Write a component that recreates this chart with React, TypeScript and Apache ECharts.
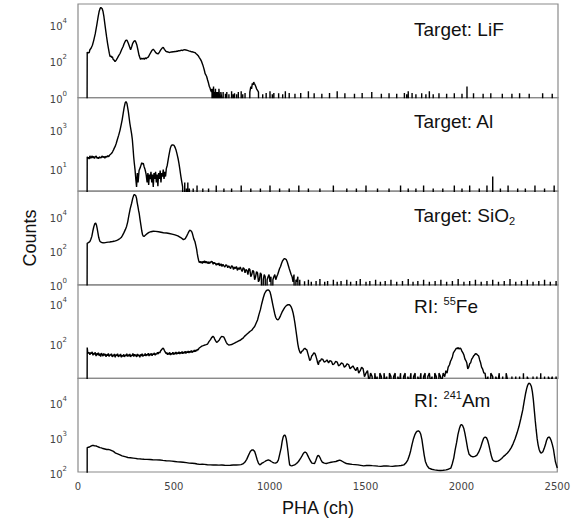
import React, { useEffect, useRef } from "react";
import * as echarts from "echarts";

// ---------- data (channel, counts) ----------
const xTicks = [0, 500, 1000, 1500, 2000, 2500];

const lifMain: number[][] = [
  [46, 0], [48, 300], [52, 260], [55, 290], [58, 270], [62, 400], [68, 480], [75, 700], [82, 1300], [90, 3000], [98, 9000],
  [105, 25000], [110, 48000], [115, 70000], [119, 80000], [122, 80000], [126, 68000],
  [130, 50000], [135, 25000], [140, 10000], [145, 4000], [149, 2000], [154, 900], [158, 500], [163, 260], [167, 170], [171, 190], [175, 150], [179, 170], [183, 120], [188, 110], [193, 90],
  [199, 110], [205, 140], [212, 190], [219, 250], [227, 400], [235, 600], [240, 850], [245, 1100], [249, 1300], [253, 1350], [257, 1200], [262, 900], [268, 600], [274, 400], [280, 600], [285, 900],
  [291, 1150], [297, 1250], [302, 1000], [307, 700], [312, 400], [318, 200], [322, 150], [326, 120], [330, 140], [335, 125], [340, 140], [345, 120], [350, 145], [355, 130], [360, 150], [366, 160], [373, 220], [380, 300],
  [386, 380], [392, 430], [398, 360], [405, 280], [411, 250], [418, 240], [424, 300], [430, 380], [437, 480], [444, 550], [450, 420], [458, 330], [464, 310], [470, 300], [475, 285], [479, 290],
  [486, 310], [490, 295], [495, 320], [500, 305], [505, 330], [510, 315], [515, 340], [520, 330], [525, 360], [530, 345], [535, 370], [540, 380], [545, 365], [550, 395], [557, 400], [563, 385], [570, 370], [577, 350], [585, 330], [592, 310], [600, 300],
  [609, 280], [614, 250], [620, 220], [626, 190], [632, 150], [638, 120], [644, 90], [650, 60], [655, 40], [659, 28], [662, 20], [666, 17], [670, 14], [675, 9], [680, 6], [684, 4], [687, 3.5],
  [691, 2.5], [695, 2], [698, 3], [700, 0], [702, 3], [704, 1], [706, 4], [708, 0], [711, 2], [714, 1], [716, 3], [719, 0],
  [722, 2], [725, 1], [728, 2], [731, 0], [734, 3], [737, 1], [740, 0], [744, 2], [748, 1], [752, 0],
  [756, 2], [760, 0], [890, 0], [895, 2], [900, 4], [904, 3], [908, 6], [912, 5], [915, 7], [918, 6], [922, 5], [926, 4], [930, 3], [935, 2.5], [940, 2], [945, 0],
];
const lifSpikes: number[][] = [
  [768, 1.6], [775, 2], [786, 1.5], [800, 2.2], [808, 1.5], [815, 1.7], [826, 1.5], [835, 2], [850, 2.2], [858, 1.5], [870, 1.8], [962, 1.5], [980, 1.8], [1000, 2.2], [1012, 1.5], [1020, 1.8], [1045, 1.7],
  [1066, 1.5], [1080, 2.2], [1100, 1.8], [1130, 1.6], [1160, 1.8], [1200, 2.2], [1230, 1.7], [1270, 1.6], [1310, 1.8], [1350, 2.2],
  [1390, 1.7], [1440, 1.6], [1480, 1.8], [1530, 2], [1580, 1.6], [1620, 1.7], [1660, 1.6], [1700, 1.8], [1712, 1.5], [1720, 2.2],
  [1740, 1.8], [1760, 1.5], [1790, 1.7], [1812, 1.5], [1830, 2.2], [1850, 1.5], [1880, 1.7], [1920, 1.6], [1960, 1.7], [2000, 1.6], [2026, 4], [2060, 1.7],
  [2110, 1.6], [2150, 1.7], [2210, 1.6], [2260, 1.6], [2300, 1.7], [2350, 1.6], [2420, 1.7], [2470, 1.6],
];

const alMain: number[][] = [
  [46, 0], [48, 40], [52, 33], [55, 38], [58, 31], [62, 45], [66, 34], [70, 38], [74, 44], [78, 35], [82, 42], [86, 33], [90, 40], [95, 44], [99, 34], [103, 38], [107, 32], [112, 40],
  [116, 36], [120, 35], [125, 44], [130, 37], [135, 42], [140, 34], [145, 43], [150, 38], [155, 46], [160, 40], [164, 48], [167, 50], [171, 55], [175, 60], [180, 72], [185, 90], [189, 110], [193, 130],
  [199, 190], [205, 300], [212, 500], [219, 900], [225, 1700], [230, 3000], [235, 6000], [240, 12000], [246, 22000], [250, 25000], [255, 20000],
  [262, 8000], [270, 2000], [279, 600], [283, 300], [287, 100], [290, 40], [293, 20], [297, 9], [301, 3], [305, 1.2], [309, 6],
  [313, 2], [318, 8], [325, 12], [332, 20], [336, 17], [340, 19], [344, 13], [348, 10], [352, 7], [355, 5], [360, 2], [364, 6],
  [368, 1.5], [372, 5], [376, 3], [380, 7], [384, 2], [388, 5], [392, 1.2], [396, 6], [400, 3],
  [404, 7], [408, 2], [412, 5], [416, 1.3], [420, 6], [424, 3], [428, 8], [432, 2], [436, 6], [440, 4],
  [444, 9], [448, 3], [452, 7], [456, 4], [460, 10], [465, 15], [470, 30], [474, 50], [478, 80], [481, 110], [485, 140],
  [488, 155], [492, 160], [496, 158], [500, 150], [503, 135], [507, 110], [511, 85], [515, 60], [518, 45], [522, 30], [526, 18], [530, 10], [536, 4], [540, 2.3], [545, 1.2],
  [550, 0], [556, 2], [559, 0], [565, 1], [568, 0], [572, 2], [575, 0], [580, 1], [583, 0],
];
const alSpikes: number[][] = [
  [600, 1], [620, 1.4], [650, 1], [680, 1], [720, 1.4], [760, 1], [800, 1], [850, 1.4], [900, 1], [950, 1],
  [1000, 1.4], [1050, 1], [1100, 1], [1150, 1.4], [1200, 1], [1260, 1], [1330, 1.4], [1400, 1], [1450, 1],
  [1500, 1.4], [1560, 1], [1620, 1], [1680, 1.4], [1720, 1], [1760, 1], [1800, 1.4], [1850, 1], [1900, 1],
  [1960, 1.4], [2000, 1], [2040, 1.4], [2090, 1], [2130, 1.4], [2160, 4], [2200, 1], [2240, 1.4], [2290, 1],
  [2330, 1], [2380, 1.4], [2430, 1], [2480, 1.4],
];

const sioMain: number[][] = [
  [46, 0], [48, 280], [52, 290], [55, 300], [58, 320], [62, 350], [67, 480], [72, 700], [77, 1400], [82, 2500], [87, 3800], [92, 4200], [96, 3300], [100, 2000], [104, 1100], [108, 600],
  [112, 420], [115, 350], [120, 320], [125, 300], [130, 295], [135, 290], [142, 300], [149, 310], [157, 320], [165, 330], [172, 340], [180, 350], [187, 365], [195, 380], [202, 410], [210, 450],
  [217, 510], [225, 600], [232, 800], [240, 1200], [247, 1800], [253, 2700], [259, 5000], [265, 12000], [272, 30000], [279, 60000], [285, 120000], [290, 180000], [294, 200000], [297, 200000],
  [301, 170000], [305, 120000], [308, 70000], [312, 40000], [316, 22000], [319, 15000], [323, 7000], [328, 3000], [332, 1500], [336, 900], [340, 720], [344, 700], [349, 780], [355, 900], [362, 1050],
  [370, 1200], [380, 1320], [392, 1400], [405, 1380], [420, 1300], [432, 1230], [445, 1150], [462, 1100], [475, 1030], [490, 950], [505, 860], [520, 750], [535, 600], [549, 450],
  [555, 480], [560, 550], [566, 720], [572, 1000], [576, 1250], [580, 1500], [584, 1620], [587, 1600], [591, 1400], [595, 1100], [599, 750], [603, 500], [606, 420], [609, 350], [613, 220], [618, 120],
  [621, 70], [625, 40], [628, 28], [632, 20], [636, 24], [640, 19], [644, 23], [648, 18], [652, 24], [655, 20], [659, 26], [663, 19], [667, 24], [670, 25], [674, 18], [678, 23], [682, 17], [685, 22], [690, 19], [694, 24], [700, 22], [704, 16], [708, 21], [711, 18], [715, 19], [720, 14], [724, 18], [730, 15],
  [734, 19], [738, 13], [745, 17], [750, 12], [755, 16], [760, 13], [765, 11], [770, 15], [775, 14], [780, 10], [785, 13], [790, 11], [795, 9], [800, 13], [805, 12], [810, 8], [815, 11], [820, 9], [825, 12], [830, 7], [835, 10], [840, 8], [845, 11], [850, 8], [855, 6], [860, 10], [865, 9],
  [870, 5], [875, 8], [880, 7], [885, 4], [890, 9], [895, 8], [900, 3], [905, 4], [910, 7], [915, 6], [920, 2], [925, 3], [930, 6], [935, 5], [940, 1.5], [945, 2], [950, 5], [955, 4], [960, 0], [965, 2], [970, 4], [975, 3],
  [980, 0], [985, 2], [990, 3], [995, 4], [1000, 1.5], [1005, 3], [1010, 0], [1015, 2], [1020, 3], [1025, 4], [1030, 2], [1035, 3], [1040, 4], [1045, 6], [1050, 9], [1055, 12], [1060, 18], [1065, 25],
  [1070, 30], [1075, 35], [1080, 33], [1085, 30], [1090, 22], [1095, 14], [1100, 9], [1105, 6], [1110, 4], [1115, 3], [1120, 1.5], [1125, 4], [1130, 0], [1135, 2], [1140, 1.5], [1145, 3], [1150, 0], [1155, 2],
  [1160, 0],
];
const sioSpikes: number[][] = [
  [1180, 1.6], [1200, 2], [1215, 1.5], [1240, 1.7], [1260, 2.2], [1285, 1.5], [1300, 1.7], [1330, 2], [1350, 1.5],
  [1370, 1.7], [1400, 2], [1420, 1.5], [1450, 1.7], [1470, 2.2], [1500, 1.5], [1520, 1.7], [1550, 2], [1575, 1.5],
  [1600, 1.7], [1630, 2], [1660, 1.5], [1690, 1.7], [1720, 2.2], [1745, 1.5], [1770, 1.7], [1800, 2], [1830, 1.5],
  [1860, 1.7], [1890, 2], [1920, 1.5], [1950, 1.7], [1980, 2.2], [2010, 1.5], [2040, 1.7], [2070, 2], [2100, 1.5],
  [2130, 1.7], [2160, 2], [2190, 1.5], [2220, 1.7], [2250, 2.2], [2280, 1.5], [2310, 1.7], [2340, 2], [2370, 1.5],
  [2400, 1.7], [2430, 2], [2460, 1.5], [2490, 1.7],
];

const feMain: number[][] = [
  [46, 0], [48, 60], [50, 38], [54, 30], [58, 34], [62, 26], [66, 33], [70, 29], [74, 36], [78, 24], [82, 31], [86, 27], [90, 34], [94, 22], [98, 30], [102, 25], [106, 33], [110, 23],
  [114, 29], [118, 21], [122, 31], [126, 26], [130, 22], [134, 30], [138, 24], [142, 28], [146, 20], [150, 27], [154, 23], [158, 30], [162, 21], [166, 26], [170, 24], [174, 29],
  [178, 20], [182, 25], [186, 22], [190, 28], [194, 19], [198, 26], [202, 23], [206, 29], [210, 20], [214, 25], [218, 22], [222, 28], [226, 19], [230, 24], [234, 21], [238, 27],
  [242, 20], [246, 25], [250, 23], [254, 29], [258, 21], [262, 26], [266, 22], [270, 28], [274, 20], [278, 25], [282, 23], [286, 30], [290, 21], [294, 27], [298, 22], [302, 26],
  [306, 20], [310, 28], [314, 23], [318, 25], [322, 19], [326, 27], [330, 22], [334, 29], [338, 21], [342, 26], [346, 23], [350, 30], [354, 22], [358, 27], [362, 24], [366, 31],
  [370, 22], [374, 28], [378, 25], [382, 30], [386, 23], [390, 29], [394, 26], [398, 32], [402, 24], [406, 30], [410, 27], [414, 34], [418, 28], [422, 36], [426, 32], [430, 40],
  [434, 45], [438, 50], [442, 56], [446, 52], [450, 42], [454, 36], [458, 30], [462, 33], [466, 26], [470, 31], [474, 27], [478, 34], [482, 25], [486, 30], [490, 27], [494, 35],
  [498, 26], [502, 32], [506, 28], [510, 36], [514, 27], [518, 33], [522, 29], [526, 37], [530, 28], [534, 34], [538, 30], [542, 38], [546, 29], [550, 35], [554, 31], [558, 39],
  [562, 30], [566, 37], [570, 33], [574, 40], [578, 32], [582, 38], [586, 34], [590, 42], [594, 33], [598, 40], [602, 36], [606, 44], [610, 37], [614, 45], [618, 40], [622, 48],
  [626, 45], [630, 55], [637, 62], [645, 70], [652, 74], [660, 80], [667, 84], [675, 90], [682, 120], [690, 150], [696, 190], [703, 220], [708, 200], [712, 160], [717, 130], [722, 110], [728, 120], [735, 140],
  [741, 180], [748, 220], [754, 215], [760, 200], [766, 150], [772, 110], [778, 90], [785, 80], [792, 82], [800, 85], [807, 92], [815, 100], [822, 110], [830, 120], [837, 130], [845, 140],
  [852, 160], [860, 180], [867, 220], [875, 260], [882, 300], [890, 350], [897, 400], [905, 450], [912, 560], [920, 700], [927, 1000], [935, 1500], [942, 2700], [950, 5000], [957, 10000], [965, 20000],
  [972, 33000], [980, 45000], [985, 49000], [990, 50000], [995, 47000], [1000, 40000], [1005, 26000], [1010, 15000], [1015, 8500], [1020, 5000], [1025, 3000], [1030, 2000], [1036, 1600], [1042, 1500],
  [1048, 1800], [1055, 2500], [1062, 3600], [1070, 5000], [1077, 6500], [1085, 8000], [1092, 8800], [1100, 9000], [1105, 8300], [1110, 7000], [1115, 5200], [1120, 3500], [1125, 2000], [1130, 1000],
  [1135, 450], [1140, 200], [1145, 90], [1150, 50], [1155, 36], [1160, 30], [1165, 38], [1170, 40], [1176, 50], [1182, 55], [1187, 48], [1192, 45], [1197, 30], [1202, 20], [1207, 13], [1212, 15],
  [1217, 22], [1222, 25], [1228, 32], [1234, 30], [1239, 22], [1244, 15], [1248, 10], [1252, 8], [1257, 13], [1262, 12], [1268, 16], [1275, 15], [1282, 11], [1290, 12], [1297, 14], [1305, 10],
  [1312, 13], [1320, 12], [1327, 8], [1335, 9], [1342, 12], [1350, 11], [1357, 7], [1365, 8], [1372, 10], [1380, 9], [1387, 6], [1395, 7], [1402, 9], [1410, 8], [1417, 5], [1425, 6],
  [1432, 7], [1440, 5], [1447, 4], [1455, 6], [1462, 3], [1470, 4], [1477, 6], [1485, 5], [1492, 2], [1500, 3], [1508, 4], [1516, 1], [1524, 3], [1532, 2], [1540, 0], [1546, 3], [1552, 1], [1558, 2],
  [1564, 0], [1572, 3], [1580, 2], [1586, 0], [1594, 3], [1600, 1], [1608, 2], [1614, 0], [1622, 3], [1630, 2], [1636, 0], [1644, 2], [1652, 3], [1658, 0], [1666, 2], [1674, 1], [1680, 3],
  [1688, 0], [1696, 2], [1704, 3], [1710, 0], [1718, 2], [1726, 1], [1734, 3], [1740, 0], [1748, 2], [1756, 3], [1762, 0], [1770, 2], [1778, 1], [1786, 3], [1792, 0], [1800, 2], [1808, 3],
  [1814, 0], [1822, 2], [1830, 3], [1836, 1], [1844, 2], [1850, 0], [1858, 3], [1866, 2], [1872, 0], [1880, 3], [1888, 2], [1894, 1], [1902, 3], [1910, 2], [1916, 4], [1922, 3], [1928, 6],
  [1935, 8], [1940, 12], [1945, 15], [1950, 20], [1955, 32], [1960, 38], [1965, 45], [1970, 55], [1975, 52], [1980, 60], [1985, 50], [1990, 56], [1995, 50], [2000, 38], [2005, 32], [2010, 25], [2015, 16], [2020, 13],
  [2025, 10], [2030, 5], [2035, 6], [2040, 9], [2045, 10], [2050, 15], [2055, 18], [2060, 22], [2065, 25], [2070, 29], [2076, 28], [2081, 25], [2087, 22], [2092, 14], [2097, 10], [2102, 6], [2107, 5], [2114, 3],
  [2120, 3], [2127, 1], [2135, 2], [2142, 0], [2150, 3], [2160, 2], [2168, 0], [2176, 2], [2186, 1], [2194, 3], [2202, 0], [2212, 2], [2222, 0], [2230, 3], [2240, 1], [2250, 0], [2260, 2],
  [2270, 0], [2280, 2], [2290, 0], [2300, 2], [2310, 0], [2320, 3], [2330, 0], [2340, 2], [2350, 1], [2360, 0], [2370, 2], [2380, 0], [2390, 2], [2400, 0], [2410, 3], [2420, 0], [2430, 2],
  [2440, 0], [2450, 2], [2460, 1], [2470, 2], [2480, 0], [2490, 2], [2500, 0],
];

const amMain: number[][] = [
  [46, 0], [48, 500], [54, 510], [60, 520], [65, 540], [70, 560], [75, 575], [80, 580], [85, 565], [90, 560], [95, 555], [100, 540], [107, 520], [115, 500], [122, 490], [130, 470],
  [140, 455], [150, 440], [158, 445], [167, 430], [176, 410], [185, 390], [192, 360], [200, 340], [210, 325], [219, 310], [230, 290], [240, 280], [250, 270], [260, 260], [274, 255], [288, 250],
  [299, 245], [310, 240], [320, 238], [330, 235], [345, 232], [360, 230], [375, 228], [390, 225], [408, 222], [427, 220], [443, 215], [460, 210], [475, 208], [490, 205], [505, 200], [520, 195],
  [535, 193], [549, 190], [565, 185], [580, 180], [595, 178], [610, 175], [622, 170], [635, 165], [648, 166], [660, 165], [675, 162], [690, 160], [705, 158], [720, 160], [735, 157], [750, 158],
  [765, 156], [780, 155], [795, 156], [810, 158], [825, 158], [840, 160], [850, 163], [860, 170], [870, 190], [880, 230], [888, 290], [895, 350], [900, 395], [905, 420], [909, 428], [913, 430], [917, 412],
  [922, 380], [928, 300], [935, 220], [941, 180], [948, 160], [954, 168], [960, 180], [968, 190], [975, 200], [982, 212], [990, 220], [995, 220], [1000, 215], [1008, 200], [1015, 190], [1022, 182],
  [1030, 180], [1038, 190], [1045, 220], [1052, 320], [1060, 500], [1065, 750], [1070, 1000], [1074, 1100], [1078, 1150], [1082, 1080], [1086, 900], [1090, 650], [1095, 400], [1100, 230],
  [1104, 160], [1110, 152], [1115, 150], [1122, 155], [1130, 160], [1140, 175], [1150, 200], [1160, 240], [1170, 300], [1176, 345], [1182, 370], [1187, 368], [1192, 350], [1198, 300],
  [1205, 250], [1212, 210], [1220, 180], [1227, 176], [1234, 175], [1240, 210], [1245, 250], [1249, 285], [1252, 300], [1257, 290], [1262, 260], [1268, 220], [1275, 190], [1285, 180],
  [1295, 175], [1307, 182], [1320, 190], [1332, 195], [1345, 200], [1355, 210], [1365, 220], [1372, 212], [1380, 200], [1390, 185], [1400, 175], [1415, 170], [1430, 165], [1445, 163],
  [1460, 160], [1475, 155], [1490, 150], [1505, 153], [1520, 155], [1535, 152], [1550, 150], [1565, 147], [1580, 145], [1595, 148], [1610, 150], [1625, 147], [1640, 145], [1655, 148],
  [1670, 150], [1685, 153], [1700, 160], [1710, 180], [1720, 220], [1728, 290], [1735, 400], [1742, 600], [1750, 900], [1758, 1200], [1765, 1400], [1770, 1480], [1776, 1500], [1782, 1420],
  [1788, 1200], [1794, 850], [1800, 500], [1806, 300], [1812, 200], [1820, 155], [1830, 130], [1845, 120], [1860, 115], [1875, 112], [1890, 110], [1905, 112], [1920, 115], [1932, 120],
  [1945, 130], [1952, 170], [1960, 250], [1967, 420], [1975, 700], [1982, 1200], [1990, 1800], [1995, 2150], [2000, 2300], [2006, 2150], [2012, 1800], [2018, 1300], [2025, 800], [2032, 480],
  [2040, 320], [2050, 285], [2060, 270], [2070, 280], [2080, 300], [2090, 370], [2100, 500], [2108, 700], [2115, 900], [2120, 980], [2125, 1000], [2131, 950], [2137, 800], [2143, 600],
  [2150, 400], [2156, 290], [2163, 220], [2171, 205], [2180, 200], [2190, 205], [2200, 220], [2210, 245], [2220, 280], [2230, 310], [2240, 350], [2250, 410], [2260, 500], [2270, 650],
  [2280, 900], [2290, 1300], [2300, 2000], [2310, 3400], [2320, 6000], [2328, 11000], [2335, 18000], [2340, 24000], [2345, 30000], [2350, 34000], [2354, 35000], [2359, 33000], [2365, 28000],
  [2370, 20000], [2375, 12000], [2380, 6000], [2385, 3000], [2390, 1600], [2395, 900], [2400, 600], [2405, 450], [2410, 380], [2415, 350], [2420, 360], [2425, 380], [2431, 460], [2438, 600],
  [2444, 800], [2450, 950], [2454, 990], [2458, 1000], [2463, 930], [2468, 800], [2474, 620], [2480, 450], [2485, 300], [2490, 200], [2495, 160], [2500, 130],
];
const amSpikes: number[][] = [];

// log10 ranges of each panel [min, max] and labelled decades
const panelRanges = [[0, 5.09], [-0.14, 4.6], [0, 5.5], [0.21, 4.96], [2, 4.68]];
const panelDecades = [[0, 2, 4], [1, 3], [0, 2, 4], [2, 4], [2, 3, 4]];
const panelTitles = [
  "{t|Target: LiF}",
  "{t|Target: Al}",
  "{t|Target: SiO}{sub|2}",
  "{t|RI: }{sup|55}{t|Fe}",
  "{t|RI: }{sup|241}{t|Am}",
];
const panels = [
  [lifMain, lifSpikes],
  [alMain, alSpikes],
  [sioMain, sioSpikes],
  [feMain, []],
  [amMain, amSpikes],
];

const FLOOR = -6;
function build(main: number[][], spikes: number[][]) {
  const pts = main.map((p) => [p[0], p[1]]);
  spikes.forEach(([c, v]) => {
    pts.push([c - 1.5, 0], [c, v], [c + 1.5, 0]);
  });
  pts.sort((a, b) => a[0] - b[0]);
  return pts.map(([c, v]) => [c, v > 0 ? Math.log10(v) : FLOOR]);
}

export default function App() {
  const ref = useRef<HTMLDivElement>(null);
  useEffect(() => {
    if (!ref.current) return;
    const chart = echarts.init(ref.current, null, { renderer: "svg" });
    const top0 = 4;
    const ph = 93.6;
    const left = 78;
    const width = 480;
    const grids = panels.map((_, i) => ({
      left,
      width,
      top: top0 + i * ph,
      height: ph,
      show: true,
      borderColor: "#8a8a8a",
      borderWidth: 1.2,
      backgroundColor: "transparent",
    }));
    const xAxes = panels.map((_, i) => ({
      type: "value",
      gridIndex: i,
      min: xTicks[0],
      max: xTicks[xTicks.length - 1],
      interval: 500,
      axisLine: { show: false },
      axisTick: { show: false },
      splitLine: { show: false },
      axisLabel: {
        show: i === panels.length - 1,
        color: "#444",
        fontFamily: "DejaVu Sans",
        fontSize: 10,
        margin: 9,
        formatter: (v: number) => String(v),
      },
    }));
    const yAxes = panels.map((_, i) => ({
      type: "value",
      gridIndex: i,
      min: panelRanges[i][0],
      max: panelRanges[i][1],
      axisLine: { show: false },
      axisTick: { show: false },
      splitLine: { show: false },
      axisLabel: {
        customValues: panelDecades[i],
        margin: 11,
        formatter: (v: number) => `{b|10}{s|${Math.round(v)}}`,
        rich: {
          b: { fontFamily: "DejaVu Sans", fontSize: 10, color: "#444", lineHeight: 14, verticalAlign: "bottom" },
          s: { fontFamily: "DejaVu Sans", fontSize: 7, color: "#444", lineHeight: 14, verticalAlign: "top" },
        },
      },
    }));
    const series = panels.map((p, i) => ({
      type: "line",
      xAxisIndex: i,
      yAxisIndex: i,
      data: build(p[0] as number[][], p[1] as number[][]),
      showSymbol: false,
      symbol: "none",
      clip: true,
      lineStyle: { color: "#000", width: 1.4 },
    }));
    const titleTops = [14, 13, 13, 11, 11];
    const titles = panelTitles.map((t, i) => ({
      text: t,
      left: 414,
      top: top0 + i * ph + titleTops[i],
      padding: 0,
      textStyle: {
        fontWeight: "normal",
        rich: {
          t: { fontFamily: "Liberation Sans", fontSize: 19, fontWeight: "normal", color: "#111", lineHeight: 22 },
          sub: { fontFamily: "Liberation Sans", fontSize: 11, fontWeight: "normal", color: "#111", lineHeight: 22, verticalAlign: "bottom" },
          sup: { fontFamily: "Liberation Sans", fontSize: 11, fontWeight: "normal", color: "#111", lineHeight: 22, verticalAlign: "top" },
        },
      },
    }));
    chart.setOption({
      animation: false,
      backgroundColor: "#fff",
      title: titles,
      grid: grids,
      xAxis: xAxes,
      yAxis: yAxes,
      series,
      graphic: [
        {
          type: "text",
          x: 30,
          y: 238,
          rotation: Math.PI / 2,
          style: {
            text: "Counts",
            fontFamily: "Liberation Sans",
            fontSize: 18,
            fill: "#111",
            textAlign: "center",
            textVerticalAlign: "middle",
          },
        },
        {
          type: "text",
          x: 318,
          y: 508,
          style: {
            text: "PHA (ch)",
            fontFamily: "Liberation Sans",
            fontSize: 18,
            fill: "#111",
            textAlign: "center",
            textVerticalAlign: "middle",
          },
        },
      ],
    });
    return () => chart.dispose();
  }, []);
  return <div ref={ref} style={{ width: 573, height: 529, position: "absolute", left: 0, top: 0 }} />;
}
